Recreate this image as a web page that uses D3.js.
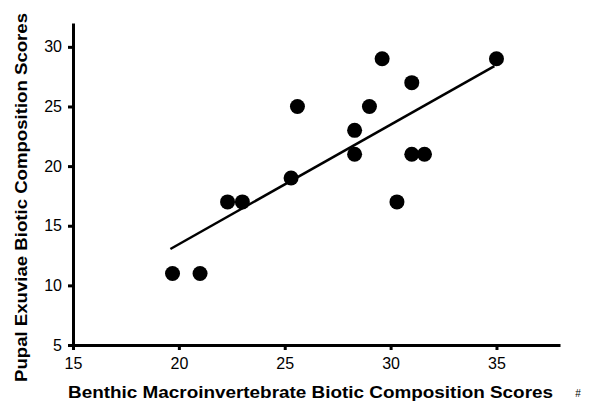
<!DOCTYPE html>
<style>
  body { margin: 0; background: #fff; font-family: 'Liberation Sans', Arial, sans-serif; }
  .axis text { font-family: 'Liberation Sans', Arial, sans-serif; font-size: 16px; fill: #000; }
  .axis path, .axis line { stroke: #000; stroke-width: 3; }
</style>
<svg width="593" height="404"></svg>
<script src="https://d3js.org/d3.v7.min.js"></script>
<script>
  // data
  var benthic = [19.7, 21, 22.3, 23, 25.3, 25.6, 28.3, 28.3, 29, 29.6, 30.3, 31, 31, 31.6, 35];
  var pupal   = [11, 11, 17, 17, 19, 25, 23, 21, 25, 29, 17, 27, 21, 21, 29];
  var xTicks = [15, 20, 25, 30, 35];
  var yTicks = [5, 10, 15, 20, 25, 30];
  var fitRange = [19.6, 34.9];

  var svg = d3.select("svg");

  var x = d3.scaleLinear().domain([15, 38]).range([73, 560]);
  var y = d3.scaleLinear().domain([5, 32]).range([345, 23]);

  // least squares trend line
  var mx = d3.mean(benthic), my = d3.mean(pupal);
  var sxy = d3.sum(benthic, function(d, i) { return (d - mx) * (pupal[i] - my); });
  var sxx = d3.sum(benthic, function(d) { return (d - mx) * (d - mx); });
  var slope = sxy / sxx, icpt = my - slope * mx;

  svg.append("g")
    .attr("class", "axis")
    .attr("transform", "translate(0,345)")
    .call(d3.axisBottom(x).tickValues(xTicks).tickSize(5).tickSizeOuter(0).tickPadding(8))
    .call(function(g) { g.selectAll(".tick line").attr("stroke-width", 2.5); });

  svg.append("g")
    .attr("class", "axis")
    .attr("transform", "translate(73,0)")
    .call(d3.axisLeft(y).tickValues(yTicks).tickSize(5).tickSizeOuter(0).tickPadding(6))
    .call(function(g) { g.selectAll(".tick line").attr("stroke-width", 2.5); });

  svg.append("line")
    .attr("x1", x(fitRange[0])).attr("y1", y(icpt + slope * fitRange[0]))
    .attr("x2", x(fitRange[1])).attr("y2", y(icpt + slope * fitRange[1]))
    .attr("stroke", "#000")
    .attr("stroke-width", 2.5);

  svg.append("g")
    .selectAll("circle")
    .data(benthic)
    .enter().append("circle")
    .attr("cx", function(d) { return x(d); })
    .attr("cy", function(d, i) { return y(pupal[i]); })
    .attr("r", 7.5)
    .attr("fill", "#000");

  svg.append("text")
    .attr("x", 310.5)
    .attr("y", 398)
    .attr("text-anchor", "middle")
    .attr("font-size", 16)
    .attr("font-weight", "bold")
    .attr("textLength", 485)
    .attr("lengthAdjust", "spacingAndGlyphs")
    .text("Benthic Macroinvertebrate Biotic Composition Scores");

  svg.append("text")
    .attr("transform", "translate(27,197.5) rotate(-90)")
    .attr("text-anchor", "middle")
    .attr("font-size", 16)
    .attr("font-weight", "bold")
    .attr("textLength", 369)
    .attr("lengthAdjust", "spacingAndGlyphs")
    .text("Pupal Exuviae Biotic Composition Scores");

  svg.append("text")
    .attr("x", 578)
    .attr("y", 397)
    .attr("text-anchor", "middle")
    .attr("font-size", 10)
    .text("#");
</script>
